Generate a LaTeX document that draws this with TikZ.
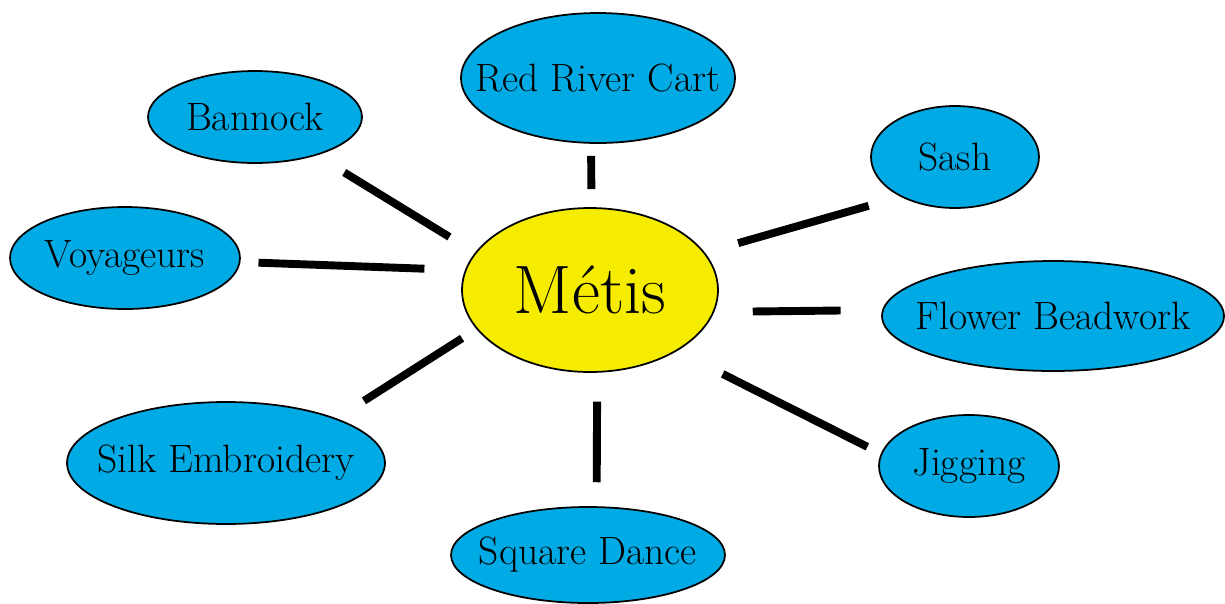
\documentclass[tikz,border=0pt]{standalone}
\usepackage{tikz}
\usetikzlibrary{shapes.geometric}
\definecolor{leafblue}{RGB}{0,170,228}
\definecolor{hubyellow}{RGB}{245,236,0}
\newcommand{\lbl}[1]{\makebox[0pt]{#1}}

\begin{document}
\begin{tikzpicture}[x=0.02cm,y=-0.02cm]
            \tikzset{leaf/.style={ellipse,draw=black,line width=1pt,fill=leafblue,inner sep=0pt,font=\fontsize{22.5}{27}\selectfont},
                     hub/.style={ellipse,draw=black,line width=1pt,fill=hubyellow,inner sep=0pt,font=\fontsize{39}{46}\selectfont},
                     link/.style={line width=4.5pt,black}}
            \useasboundingbox (0,0) rectangle (1225,603);
            \node [hub,minimum width=5.12cm,minimum height=3.28cm] (metis) at (590,290) {\lbl{Métis}};
            \node [leaf,minimum width=5.48cm,minimum height=2.6cm] (cart) at (598,78) {\lbl{Red River Cart}};
            \node [leaf,minimum width=4.28cm,minimum height=1.84cm] (bannock) at (255,117) {\lbl{Bannock}};
            \node [leaf,minimum width=3.36cm,minimum height=2.04cm] (sash) at (955,157) {\lbl{Sash}};
            \node [leaf,minimum width=4.6cm,minimum height=2.04cm] (voyageurs) at (125,258) {\lbl{Voyageurs}};
            \node [leaf,minimum width=6.84cm,minimum height=2.2cm] (beadwork) at (1053,316) {\lbl{Flower Beadwork}};
            \node [leaf,minimum width=6.36cm,minimum height=2.44cm] (silk) at (226,463) {\lbl{Silk Embroidery}};
            \node [leaf,minimum width=3.6cm,minimum height=2.04cm] (jigging) at (969,466) {\lbl{Jigging}};
            \node [leaf,minimum width=5.48cm,minimum height=1.92cm] (dance) at (588,555) {\lbl{Square Dance}};
            \draw [link,shorten <=0.65cm,shorten >=0.6cm] (bannock.-32) -- (metis.162.4);
            \draw [link,shorten <=0.24cm,shorten >=0.36cm] (cart.-96.1) -- (metis.89.3);
            \draw [link,shorten <=0.66cm,shorten >=0.69cm] (sash.-144.4) -- (metis.18.2);
            \draw [link,shorten <=0.36cm,shorten >=0.81cm] (voyageurs.-2.7) -- (metis.171.6);
            \draw [link,shorten <=0.83cm,shorten >=0.77cm] (beadwork.178.7) -- (metis.-10.1);
            \draw [link,shorten <=0.65cm,shorten >=0.34cm] (silk.22) -- (metis.-161.6);
            \draw [link,shorten <=0.48cm,shorten >=0.58cm] (dance.80.5) -- (metis.-85.8);
            \draw [link,shorten <=0.3cm,shorten >=1.02cm] (jigging.172) -- (metis.-35.7);
            \end{tikzpicture}
\end{document}
